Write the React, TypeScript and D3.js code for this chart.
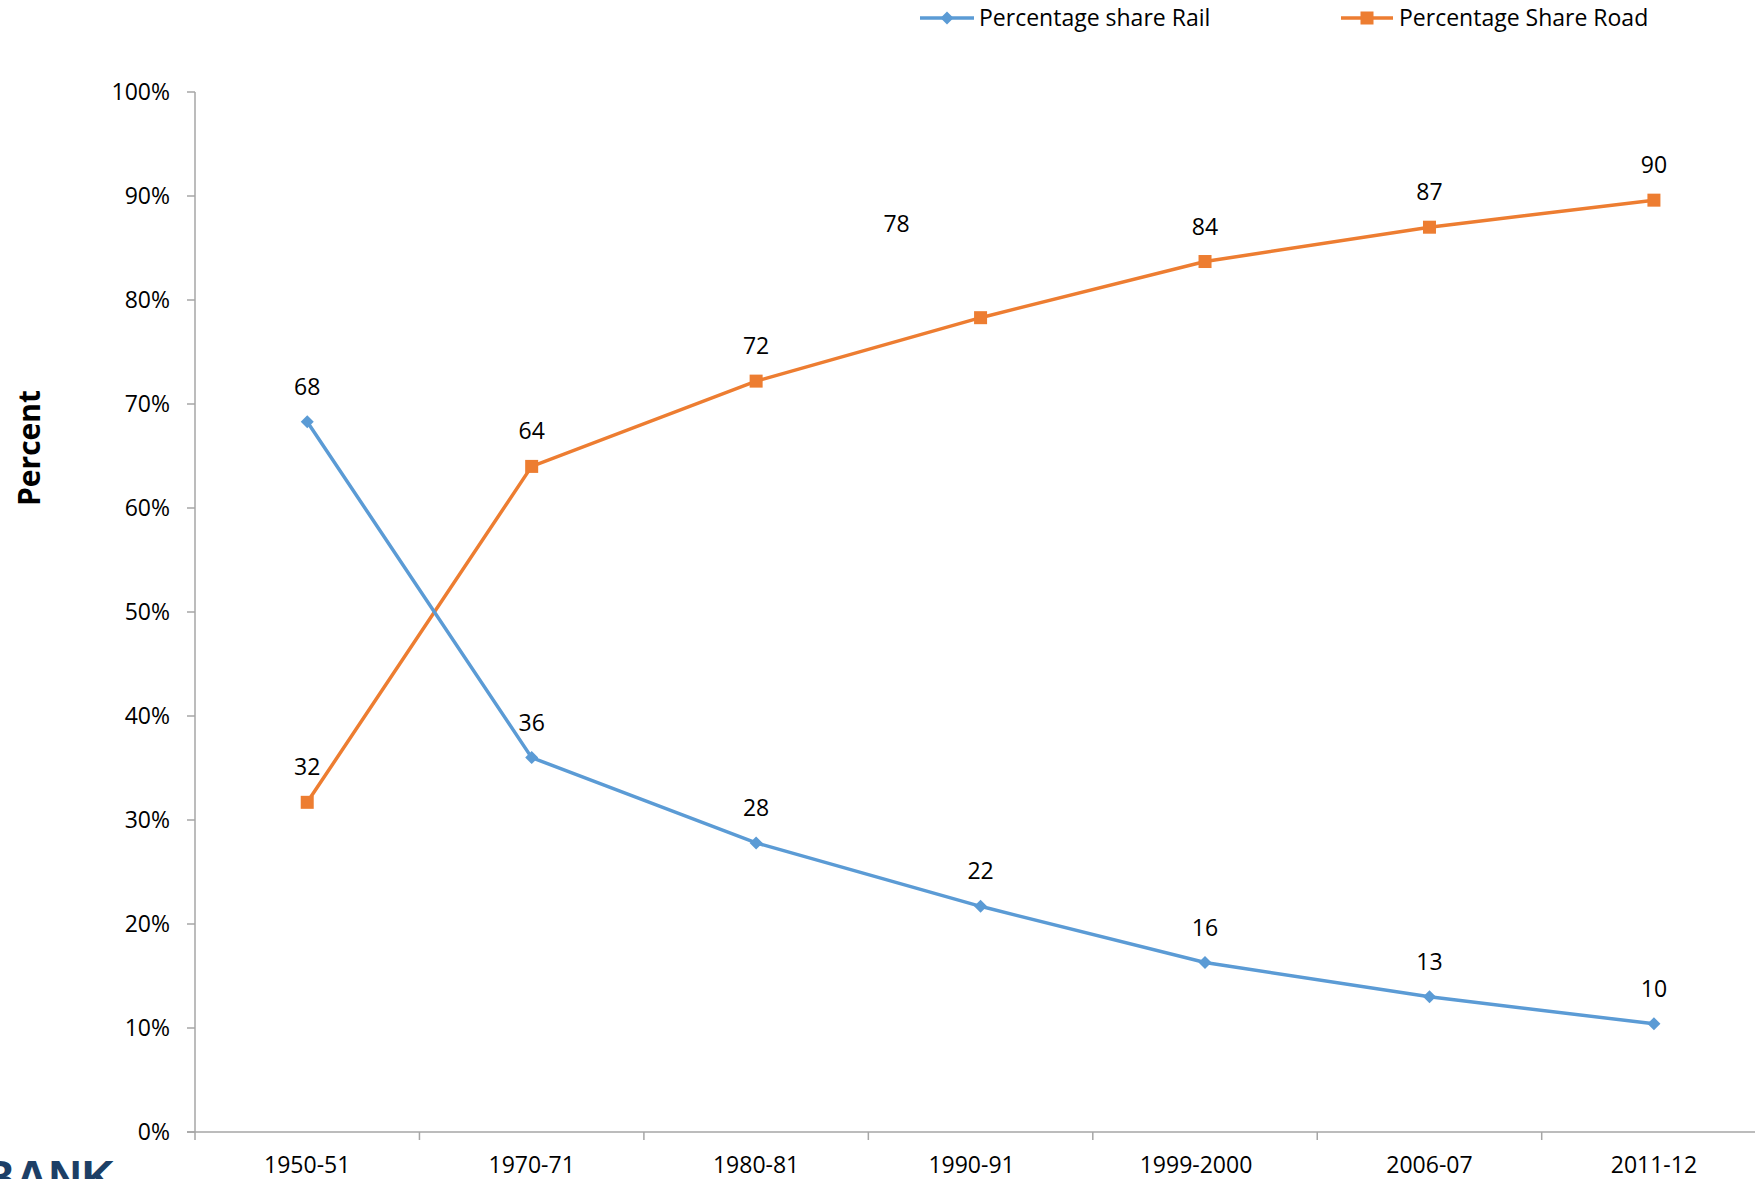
import React from "react";
import * as d3 from "d3";

const categories = ["1950-51", "1970-71", "1980-81", "1990-91", "1999-2000", "2006-07", "2011-12"];
const railValues = [68.3, 36.0, 27.8, 21.7, 16.3, 13.0, 10.4];
const roadValues = [31.7, 64.0, 72.2, 78.3, 83.7, 87.0, 89.6];
const railLabels = ["68", "36", "28", "22", "16", "13", "10"];
const roadLabels = ["32", "64", "72", "78", "84", "87", "90"];
const yTicks = [0, 10, 20, 30, 40, 50, 60, 70, 80, 90, 100];

const W = 1755;
const H = 1179;
const FONT = "'Open Sans', 'Noto Sans', sans-serif";
const RAIL = "#5b9bd5";
const ROAD = "#ed7d31";
const AXIS = "#a6a6a6";

export default function App() {
  const left = 195;
  const bandW = 224.45;
  const x = d3.scaleBand<string>().domain(categories).range([left, left + bandW * categories.length]);
  const y = d3.scaleLinear().domain([0, 100]).range([1132, 92]);
  const cx = (c: string) => (x(c) as number) + x.bandwidth() / 2;

  const line = d3
    .line<number>()
    .x((_, i) => cx(categories[i]))
    .y((v) => y(v));

  const diamond = (px: number, py: number, r: number) =>
    `M${px},${py - r}L${px + r},${py}L${px},${py + r}L${px - r},${py}Z`;

  // label offsets (style), special placement of one road label as in reference
  const roadLabelOffset = (i: number) => (i === 3 ? { dx: -84, dy: -94 } : { dx: 0, dy: -35 });
  // small horizontal shifts of some category labels, as in reference
  const catLabelShift = (i: number) => (i === 3 || i === 4 ? -9 : 0);

  return (
    <svg width={W} height={H} style={{ position: "absolute", left: 0, top: 0, background: "#fff" }} fontFamily={FONT}>
      <rect x={0} y={0} width={W} height={H} fill="#fff" />
      {/* axes */}
      <line x1={left} x2={left} y1={y(100)} y2={y(0) + 8} stroke={AXIS} strokeWidth={1.5} />
      <line x1={left - 8} x2={W} y1={y(0)} y2={y(0)} stroke={AXIS} strokeWidth={1.5} />
      {yTicks.map((t) => (
        <g key={t}>
          <line x1={left - 8} x2={left} y1={y(t)} y2={y(t)} stroke={AXIS} strokeWidth={1.5} />
          <text x={170} y={y(t)} dy="0.35em" textAnchor="end" fontSize={23} fill="#000">
            {t}%
          </text>
        </g>
      ))}
      {categories.map((c, i) => (
        <g key={c}>
          <line
            x1={(x(c) as number) + x.bandwidth()}
            x2={(x(c) as number) + x.bandwidth()}
            y1={y(0)}
            y2={y(0) + 8}
            stroke={AXIS}
            strokeWidth={1.5}
          />
          <text x={cx(c) + catLabelShift(i)} y={1173} textAnchor="middle" fontSize={23} fill="#000">
            {c}
          </text>
        </g>
      ))}
      <text
        transform={`translate(29, 448) rotate(-90)`}
        textAnchor="middle"
        dy="0.35em"
        fontSize={30}
        fontWeight="bold"
        fill="#000"
      >
        Percent
      </text>

      {/* series */}
      <path d={line(roadValues) || ""} fill="none" stroke={ROAD} strokeWidth={3.5} />
      <path d={line(railValues) || ""} fill="none" stroke={RAIL} strokeWidth={3.5} />
      {roadValues.map((v, i) => (
        <rect key={"r" + i} x={cx(categories[i]) - 6.5} y={y(v) - 6.5} width={13} height={13} fill={ROAD} />
      ))}
      {railValues.map((v, i) => (
        <path key={"d" + i} d={diamond(cx(categories[i]), y(v), 6.5)} fill={RAIL} />
      ))}
      {railValues.map((v, i) => (
        <text key={"rl" + i} x={cx(categories[i])} y={y(v) - 35} dy="0.35em" textAnchor="middle" fontSize={23} fill="#000">
          {railLabels[i]}
        </text>
      ))}
      {roadValues.map((v, i) => {
        const o = roadLabelOffset(i);
        return (
          <text
            key={"ol" + i}
            x={cx(categories[i]) + o.dx}
            y={y(v) + o.dy}
            dy="0.35em"
            textAnchor="middle"
            fontSize={23}
            fill="#000"
          >
            {roadLabels[i]}
          </text>
        );
      })}

      {/* legend */}
      <g>
        <line x1={920} x2={974} y1={18} y2={18} stroke={RAIL} strokeWidth={3.5} />
        <path d={diamond(947, 18, 6.5)} fill={RAIL} />
        <text x={979} y={18} dy="0.35em" fontSize={23} fill="#000">
          Percentage share Rail
        </text>
        <line x1={1341} x2={1393} y1={18} y2={18} stroke={ROAD} strokeWidth={3.5} />
        <rect x={1360.5} y={11.5} width={13} height={13} fill={ROAD} />
        <text x={1399} y={18} dy="0.35em" fontSize={23} fill="#000">
          Percentage Share Road
        </text>
      </g>

      {/* partial logo at bottom left */}
      <text x={-18} y={1193} fontSize={46} fontWeight="bold" fill="#1d3f66" fontFamily="'Liberation Sans', Arial, sans-serif">
        BANK
      </text>
    </svg>
  );
}
